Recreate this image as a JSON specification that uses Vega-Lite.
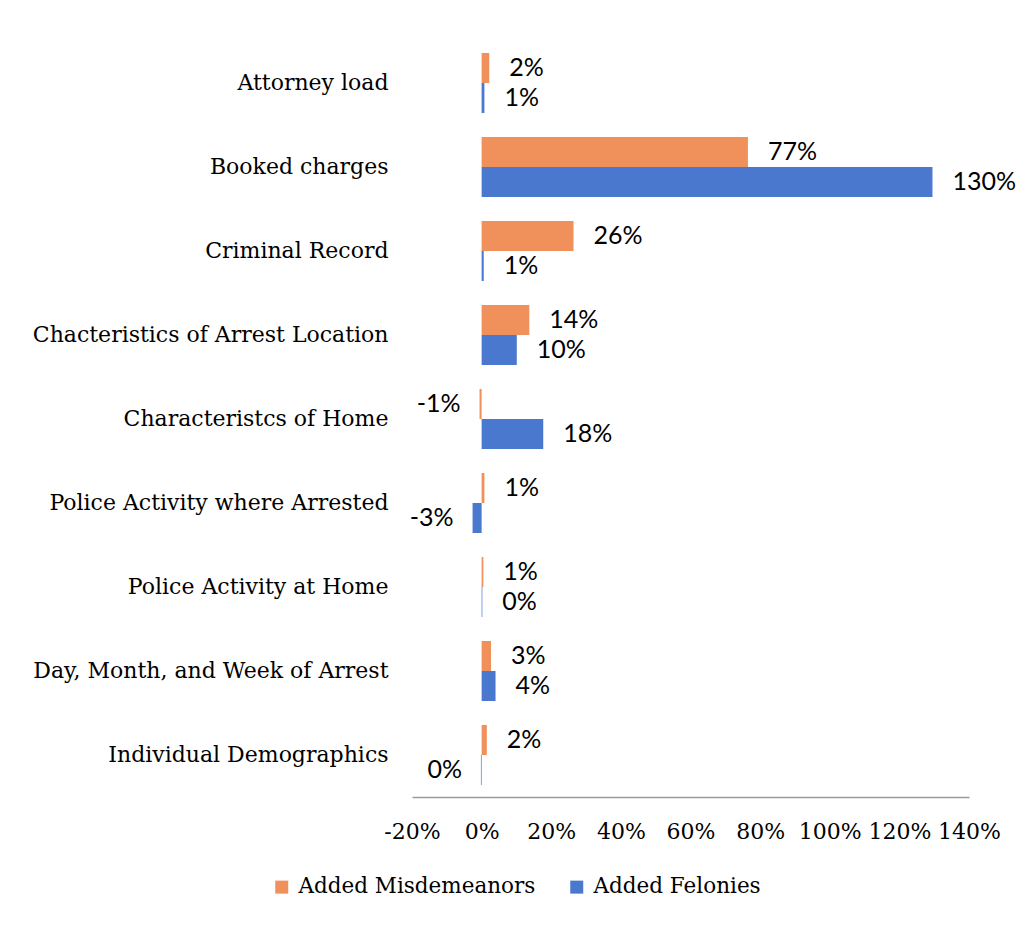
{
  "$schema": "https://vega.github.io/schema/vega-lite/v6.json",
  "autosize": {"type": "none"},
  "padding": {"left": 412, "top": 41, "right": 58, "bottom": 133},
  "width": 557,
  "height": 756,
  "background": "white",
  "data": {
    "values": [
      {"category": "Attorney load", "series": "Added Misdemeanors", "value": 0.022, "label": "2%"},
      {"category": "Attorney load", "series": "Added Felonies", "value": 0.008, "label": "1%"},
      {"category": "Booked charges", "series": "Added Misdemeanors", "value": 0.765, "label": "77%"},
      {"category": "Booked charges", "series": "Added Felonies", "value": 1.295, "label": "130%"},
      {"category": "Criminal Record", "series": "Added Misdemeanors", "value": 0.264, "label": "26%"},
      {"category": "Criminal Record", "series": "Added Felonies", "value": 0.006, "label": "1%"},
      {"category": "Chacteristics of Arrest Location", "series": "Added Misdemeanors", "value": 0.137, "label": "14%"},
      {"category": "Chacteristics of Arrest Location", "series": "Added Felonies", "value": 0.101, "label": "10%"},
      {"category": "Characteristcs of Home", "series": "Added Misdemeanors", "value": -0.006, "label": "-1%"},
      {"category": "Characteristcs of Home", "series": "Added Felonies", "value": 0.177, "label": "18%"},
      {"category": "Police Activity where Arrested", "series": "Added Misdemeanors", "value": 0.008, "label": "1%"},
      {"category": "Police Activity where Arrested", "series": "Added Felonies", "value": -0.026, "label": "-3%"},
      {"category": "Police Activity at Home", "series": "Added Misdemeanors", "value": 0.005, "label": "1%"},
      {"category": "Police Activity at Home", "series": "Added Felonies", "value": 0.002, "label": "0%"},
      {"category": "Day, Month, and Week of Arrest", "series": "Added Misdemeanors", "value": 0.027, "label": "3%"},
      {"category": "Day, Month, and Week of Arrest", "series": "Added Felonies", "value": 0.04, "label": "4%"},
      {"category": "Individual Demographics", "series": "Added Misdemeanors", "value": 0.015, "label": "2%"},
      {"category": "Individual Demographics", "series": "Added Felonies", "value": -0.002, "label": "0%"}
    ]
  },
  "encoding": {
    "y": {
      "field": "category",
      "type": "nominal",
      "sort": null,
      "scale": {"paddingInner": 0.286, "paddingOuter": 0.143},
      "axis": {
        "title": null,
        "domain": false,
        "ticks": false,
        "labelPadding": 24,
        "labelLimit": 0,
        "labelFont": "DejaVu Serif",
        "labelFontSize": 22,
        "labelColor": "#000000"
      }
    },
    "yOffset": {
      "field": "series",
      "type": "nominal",
      "sort": ["Added Misdemeanors", "Added Felonies"],
      "scale": {"paddingInner": 0, "paddingOuter": 0}
    }
  },
  "layer": [
    {
      "mark": {"type": "bar"},
      "encoding": {
        "x": {
          "field": "value",
          "type": "quantitative",
          "scale": {"domain": [-0.2, 1.4], "nice": false, "zero": false},
          "axis": {
            "title": null,
            "format": ".0%",
            "labelExpr": "replace(datum.label, '\u2212', '-')",
            "values": [-0.2, 0, 0.2, 0.4, 0.6, 0.8, 1.0, 1.2, 1.4],
            "grid": false,
            "ticks": false,
            "domain": true,
            "domainColor": "#9a9a9a",
            "domainWidth": 1.5,
            "labelOverlap": false,
            "labelFlush": false,
            "labelBound": false,
            "labelBaseline": "middle",
            "labelPadding": 34,
            "labelFont": "DejaVu Serif",
            "labelFontSize": 22,
            "labelColor": "#000000"
          }
        },
        "color": {
          "field": "series",
          "type": "nominal",
          "scale": {
            "domain": ["Added Misdemeanors", "Added Felonies"],
            "range": ["#F0915B", "#4A78CF"]
          },
          "legend": {
            "title": null,
            "orient": "none",
            "direction": "horizontal",
            "legendX": -141,
            "legendY": 835,
            "padding": 0,
            "symbolType": "square",
            "symbolSize": 169,
            "symbolStrokeWidth": 0,
            "labelFont": "DejaVu Serif",
            "labelFontSize": 21.5,
            "labelColor": "#000000",
            "labelOffset": 6,
            "columnPadding": 30,
            "labelLimit": 0
          }
        }
      }
    },
    {
      "mark": {"type": "rule", "color": "#8a8a8a", "strokeWidth": 1.5},
      "encoding": {"x": {"datum": 0}, "yOffset": null}
    },
    {
      "transform": [{"filter": "datum.value >= 0"}],
      "mark": {"type": "text", "align": "left", "baseline": "middle", "dx": 20, "font": "Lato", "fontSize": 25, "color": "#000000"},
      "encoding": {
        "x": {"field": "value", "type": "quantitative"},
        "text": {"field": "label"}
      }
    },
    {
      "transform": [{"filter": "datum.value < 0"}],
      "mark": {"type": "text", "align": "right", "baseline": "middle", "dx": -19, "font": "Lato", "fontSize": 25, "color": "#000000"},
      "encoding": {
        "x": {"field": "value", "type": "quantitative"},
        "text": {"field": "label"}
      }
    }
  ],
  "config": {"view": {"stroke": null}}
}
